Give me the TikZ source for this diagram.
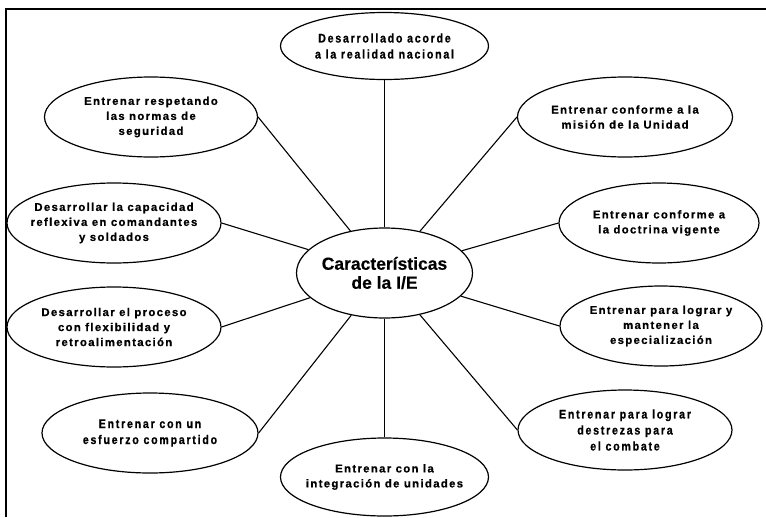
\documentclass[tikz,border=0pt]{standalone}
\usepackage{fontspec}
\setmainfont{Liberation Sans}
\newfontfamily\hubfont{Liberation Sans Bold}[FakeBold=0.4]
\newfontfamily\spacedfont{Liberation Sans Bold}[LetterSpace=12,FakeBold=0.8]
\newfontfamily\narrowfont{Liberation Sans Bold}[FakeStretch=0.85,LetterSpace=14,FakeBold=0.8]
\usetikzlibrary{shapes.geometric}

\tikzset{
  bubble/.style={draw=black, ellipse, line width=1.2pt, inner sep=0pt},
  spacedtext/.style={align=center, inner sep=0pt,
    font=\spacedfont\fontsize{11.3}{15}\selectfont},
  narrowtext/.style={align=center, inner sep=0pt,
    font=\narrowfont\fontsize{12.5}{16}\selectfont},
  hubtext/.style={align=center, inner sep=0pt,
    font=\hubfont\fontsize{17.5}{19}\selectfont},
  link/.style={draw=black, line width=1.1pt},
}

\begin{document}
\begin{tikzpicture}[x=1pt,y=-1pt]
  \useasboundingbox (0,0) rectangle (766,517);

  % frame along the top and left edges
  \draw[line width=2.5pt, line join=miter] (6,517) -- (6,9) -- (766,9);

  % central ellipse
  \node[bubble, minimum width=176pt, minimum height=90pt] (hub) at (384.5,273) {};
  \node[hubtext] (hub-t) at (hub.center) {Características\\de la I/E};

  % surrounding ellipses
  \node[bubble, minimum width=208pt, minimum height=67pt] (top) at (384.5,46) {};
  \node[narrowtext] (top-t) at (top.center) {Desarrollado acorde\\a la realidad nacional};

  \node[bubble, minimum width=213pt, minimum height=80pt] (tl) at (151,117) {};
  \node[spacedtext] (tl-t) at (tl.center) {Entrenar respetando\\las normas de\\seguridad};

  \node[bubble, minimum width=215pt, minimum height=80pt] (tr) at (625,117) {};
  \node[spacedtext] (tr-t) at (tr.center) {Entrenar conforme a la\\misión de la Unidad};

  \node[bubble, minimum width=214pt, minimum height=80pt] (l2) at (114,223) {};
  \node[spacedtext] (l2-t) at (l2.center) {Desarrollar la capacidad\\reflexiva en comandantes\\y soldados};

  \node[bubble, minimum width=214pt, minimum height=80pt] (l3) at (114,327) {};
  \node[spacedtext] (l3-t) at (l3.center) {Desarrollar el proceso\\con flexibilidad y\\retroalimentación};

  \node[bubble, minimum width=200pt, minimum height=80pt] (r2) at (659,223) {};
  \node[spacedtext] (r2-t) at (r2.center) {Entrenar conforme a\\la doctrina vigente};

  \node[bubble, minimum width=202pt, minimum height=80pt] (r3) at (661,326) {};
  \node[spacedtext] (r3-t) at (r3.center) {Entrenar para lograr y\\mantener la\\especialización};

  \node[bubble, minimum width=216pt, minimum height=80pt] (bl) at (150,433) {};
  \node[narrowtext] (bl-t) at (bl.center) {Entrenar con un\\esfuerzo compartido};

  \node[bubble, minimum width=208pt, minimum height=78pt] (bot) at (384.5,477) {};
  \node[spacedtext] (bot-t) at (bot.center) {Entrenar con la\\integración de unidades};

  \node[bubble, minimum width=214pt, minimum height=80pt] (br) at (625,430) {};
  \node[narrowtext] (br-t) at (br.center) {Entrenar para lograr\\destrezas para\\el combate};

  % connectors from the hub
  \draw[link] (hub) -- (top);
  \draw[link] (hub) -- (bot);
  \draw[link] (hub) -- (tl.east);
  \draw[link] (hub) -- (tr.west);
  \draw[link] (hub) -- (l2.east);
  \draw[link] (hub) -- (l3.east);
  \draw[link] (hub) -- (r2.west);
  \draw[link] (hub) -- (r3.west);
  \draw[link] (hub) -- (bl.east);
  \draw[link] (hub) -- (br.west);
\end{tikzpicture}
\end{document}
